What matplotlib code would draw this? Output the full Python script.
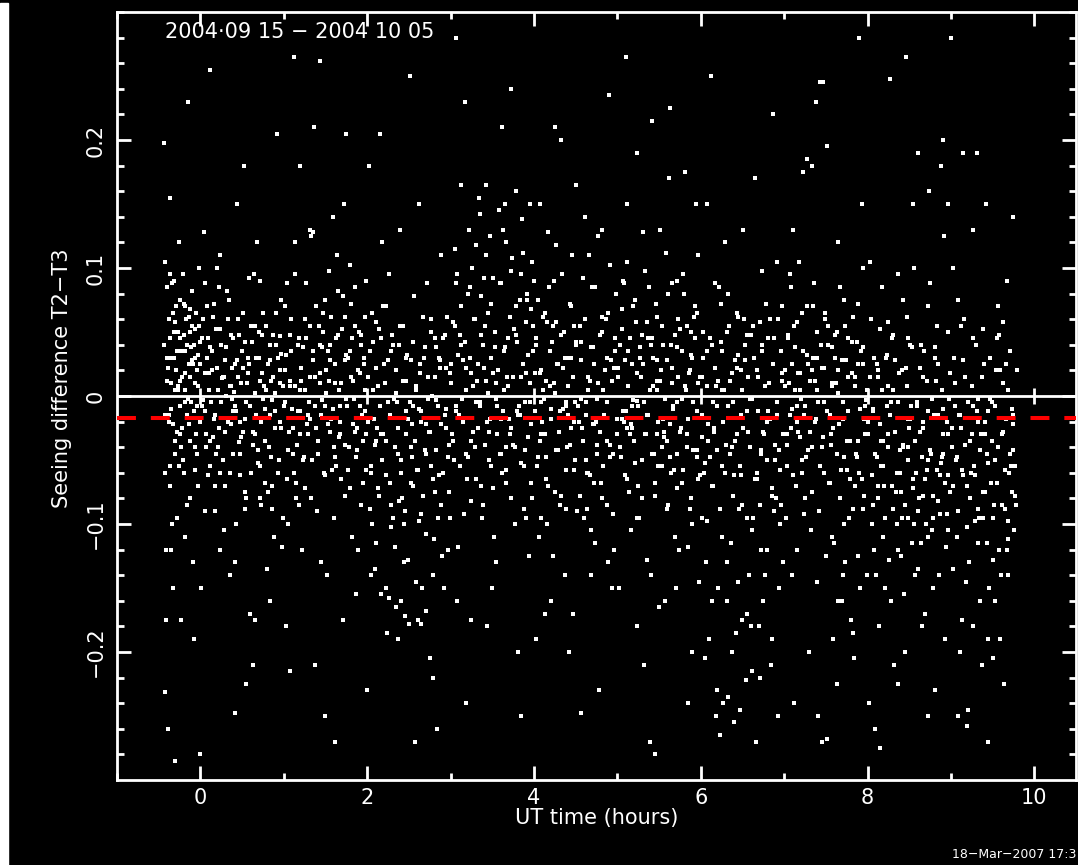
import numpy as np
import matplotlib
matplotlib.use('Agg')
import matplotlib.pyplot as plt
from matplotlib.patches import Rectangle

# seeing difference T2-T3 vs UT, 2004-09-15 .. 2004-10-05
# each list: pairs of (UT in 0.01 h, difference in 0.001)
h_m = [-44,198, -43,-231, -42,105, -41,-120, -40,12, -39,-260, -38,60, -37,-70, -36,155, -35,-10,
       -34,88, -33,-150, -32,30, -31,-45, -30,-285, -29,70, -28,-95, -27,5, -26,120, -25,-30,
       -24,45, -23,-175, -22,15, -21,95, -20,-60, -19,35, -18,-110, -17,60, -16,-15, -15,230,
       -14,25, -13,-80, -12,50, -11,-5, -10,82, -9,-130, -8,40, -7,10, -6,-40, -5,65,
       -4,20, -3,-70, -2,55, -1,-20, -44,40, -42,-60, -40,85, -38,-15, -36,30, -34,-100,
       -32,50, -30,5, -28,35, -26,-55, -24,75, -22,-25, -20,48, -18,18, -16,-85, -14,62,
       -12,-35, -10,28, -8,-190, -6,52, -4,-8, -2,100, -43,-15, -39,22, -35,-120, -31,58,
       -27,8, -23,-40, -19,70, -15,-2, -11,38, -7,-58, -3,32, -41,-175, -37,95, -33,-22]
h0 = [2,45, 5,-12, 8,70, 11,-35, 14,20, 17,-90, 21,5, 24,110, 27,-50, 30,28,
      3,-3, 6,88, 9,-62, 12,38, 16,-18, 19,52, 23,-120, 26,14, 29,-28, 33,60,
      35,-140, 38,22, 41,-8, 44,150, 47,-45, 50,35, 53,-75, 56,10, 59,-170, 62,42,
      34,75, 37,-22, 40,3, 43,-100, 46,48, 49,-32, 52,180, 55,-5, 58,25, 61,-60,
      64,95, 67,-15, 70,30, 73,-85, 76,8, 79,55, 82,-40, 85,12, 88,-110, 91,65,
      65,-30, 68,120, 71,-55, 74,18, 77,-10, 80,-135, 83,40, 86,-70, 89,2, 93,30,
      95,-20, 97,75, 99,-95, 1,-150, 4,128, 7,-40, 10,18, 13,-5, 15,62, 18,-70,
      20,100, 22,-25, 25,40, 28,-105, 31,0, 32,82, 36,-60, 39,45, 42,-130, 45,15,
      48,-20, 51,65, 54,-88, 57,30, 60,-8, 63,-210, 66,55, 69,-42, 72,90, 75,-2,
      78,-68, 81,25, 84,-160, 87,48, 90,-25, 92,205, 94,-50, 96,10, 98,-118, 0,-280,
      11,255, 23,-60, 37,8, 46,-36, 58,92, 71,-80, 83,-15, 95,47, 42,-248, 66,-175,
      8,30, 19,-45, 28,15, 39,-12, 51,22, 63,-28, 74,48, 86,-3, 97,33, 55,-225]
h1 = [101,20, 104,-65, 107,48, 110,-10, 113,95, 116,-38, 119,5, 122,-120, 125,60, 128,-22,
      131,130, 134,-50, 137,15, 140,-90, 143,40, 146,-3, 149,75, 152,-140, 155,28, 158,-58,
      161,10, 164,110, 167,-30, 170,52, 173,-78, 176,-8, 179,35, 182,-110, 185,85, 188,-42,
      191,18, 194,-15, 197,62, 103,-180, 106,-28, 109,35, 112,265, 115,-80, 118,45, 121,12,
      124,-48, 127,88, 130,-5, 133,125, 136,210, 139,-25, 142,55, 145,-130, 148,-60, 151,20,
      154,98, 157,-18, 160,-95, 163,45, 166,5, 169,-65, 172,150, 175,32, 178,-40, 181,72,
      184,-2, 187,-155, 190,50, 193,-85, 196,25, 199,-30, 102,70, 105,-100, 108,8, 111,-45,
      114,120, 117,-12, 120,180, 123,38, 126,-72, 129,-15, 132,55, 135,128, 138,-210, 141,-35,
      144,10, 147,65, 150,-250, 153,-22, 156,40, 159,140, 162,-48, 165,82, 168,-8, 171,-175,
      174,28, 177,-58, 180,102, 183,12, 186,-28, 189,-120, 192,48, 195,-68, 198,90, 100,-8,
      119,-30, 135,35, 150,-8, 166,-32, 182,45, 197,-12, 108,-215, 143,262, 161,-270, 175,205]
h2 = [201,15, 204,-60, 207,42, 210,-115, 213,8, 216,-30, 219,70, 222,-150, 225,-5, 228,35,
      231,-95, 234,20, 237,-45, 240,-160, 243,55, 246,-12, 249,-128, 252,28, 255,-70, 258,5,
      261,-175, 264,-20, 267,62, 270,-108, 273,15, 276,-55, 279,-140, 282,38, 285,-8, 288,-85,
      291,45, 294,-25, 297,-120, 202,180, 205,-140, 208,-18, 211,58, 214,-78, 217,-155, 220,25,
      223,-35, 226,95, 229,-102, 232,-2, 235,-165, 238,40, 241,-60, 244,-130, 247,12, 250,-178,
      253,-40, 256,78, 259,-145, 262,-10, 265,-92, 268,30, 271,-168, 274,-28, 277,50, 280,-112,
      283,-3, 286,-62, 289,110, 292,-150, 295,22, 298,-38, 203,-88, 206,65, 209,-135, 212,-25,
      215,205, 218,-50, 221,10, 224,-185, 227,-68, 230,48, 233,-118, 236,-5, 239,130, 242,-80,
      245,-172, 248,32, 251,250, 254,-22, 257,-270, 260,-58, 263,18, 266,-150, 269,-42, 272,88,
      275,-205, 278,0, 281,-75, 284,-260, 287,28, 290,-125, 293,-15, 296,62, 299,-95, 200,-230,
      218,120, 237,-190, 255,-8, 262,150, 279,-220, 244,-100, 226,-158, 265,-178, 281,45, 210,-35]
h3 = [301,25, 304,-50, 307,88, 310,-15, 313,40, 316,-92, 319,5, 322,130, 325,-35, 328,60,
      331,-5, 334,155, 337,-70, 340,22, 343,110, 346,-28, 349,72, 352,-110, 355,10, 358,145,
      361,-45, 364,35, 367,120, 370,-18, 373,-80, 376,52, 379,160, 382,-8, 385,95, 388,-55,
      391,18, 394,-125, 397,68, 302,-30, 305,115, 308,-160, 311,48, 314,-2, 317,230, 320,-65,
      323,30, 326,100, 329,-40, 332,12, 335,142, 338,-95, 341,55, 344,-20, 347,125, 350,-150,
      353,38, 356,-8, 359,88, 362,-60, 365,150, 368,15, 371,-30, 374,108, 377,-100, 380,42,
      383,-15, 386,138, 389,-42, 392,75, 395,-5, 398,-80, 303,58, 306,-12, 309,-118, 312,165,
      315,28, 318,-45, 321,80, 324,-175, 327,8, 330,118, 333,-25, 336,48, 339,-85, 342,165,
      345,2, 348,-55, 351,92, 354,-130, 357,20, 360,-18, 363,130, 366,-68, 369,45, 372,240,
      375,-38, 378,70, 381,-200, 384,15, 387,112, 390,-95, 393,32, 396,-22, 399,55, 306,280,
      318,-240, 344,-180, 362,210, 385,-250, 398,105, 335,-8, 351,18, 367,-40, 380,-12, 395,150]
h4 = [401,18, 404,-55, 407,150, 410,-20, 413,65, 416,-100, 419,8, 422,42, 425,-75, 428,25,
      431,-12, 434,95, 437,-140, 440,30, 443,-38, 446,110, 449,-5, 452,-90, 455,55, 458,-25,
      461,140, 464,-60, 467,12, 470,85, 473,-115, 476,-2, 479,48, 482,-80, 485,20, 488,-35,
      491,102, 494,-150, 497,35, 402,-190, 405,75, 408,-30, 411,5, 414,-65, 417,128, 420,-10,
      423,-125, 426,58, 429,-42, 432,200, 435,22, 438,-88, 441,-15, 444,70, 447,-170, 450,40,
      453,-8, 456,-248, 459,92, 462,-50, 465,15, 468,-105, 471,38, 474,-20, 477,125, 480,-68,
      483,5, 486,60, 489,-130, 492,28, 495,-45, 498,80, 403,45, 406,-110, 409,20, 412,-2,
      415,-48, 418,85, 421,-160, 424,10, 427,118, 430,-28, 433,-78, 436,50, 439,-8, 442,-200,
      445,30, 448,-58, 451,165, 454,-20, 457,42, 460,-95, 463,-5, 466,110, 469,-140, 472,25,
      475,-38, 478,-230, 481,62, 484,-15, 487,-85, 490,235, 493,12, 496,-120, 499,-30, 400,90,
      413,-170, 425,210, 448,55, 465,-60, 482,130, 438,-5, 456,28, 472,-22, 491,-48, 407,-35]
h5 = [501,22, 504,-48, 507,90, 510,-12, 513,35, 516,-105, 519,-3, 522,58, 525,-70, 528,15,
      531,128, 534,-30, 537,45, 540,-140, 543,8, 546,72, 549,-55, 552,20, 555,-18, 558,112,
      561,-85, 564,40, 567,-8, 570,-150, 573,60, 576,-25, 579,95, 582,5, 585,-118, 588,32,
      591,-42, 594,150, 597,-65, 502,-150, 505,68, 508,-20, 511,150, 514,-75, 517,25, 520,-35,
      523,190, 526,-95, 529,48, 532,-5, 535,-128, 538,85, 541,215, 544,-45, 547,12, 550,-165,
      553,55, 556,-28, 559,-88, 562,170, 565,10, 568,-58, 571,38, 574,-120, 577,-2, 580,80,
      583,-40, 586,18, 589,-100, 592,62, 595,-12, 598,-145, 503,40, 506,-18, 509,-62, 512,105,
      515,-30, 518,-8, 521,75, 524,-180, 527,30, 530,-50, 533,98, 536,-15, 539,-270, 542,45,
      545,-78, 548,5, 551,130, 554,-40, 557,-160, 560,28, 563,-22, 566,88, 569,-110, 572,-5,
      575,52, 578,-68, 581,175, 584,-30, 587,20, 590,-200, 593,70, 596,-48, 599,15, 545,-280,
      510,265, 532,-210, 563,225, 585,-240, 597,110, 524,-4, 548,-30, 571,-45, 588,50, 512,-25]
h6 = [601,15, 604,-60, 607,150, 610,-190, 613,40, 616,-25, 619,-230, 622,85, 625,-110, 628,5,
      631,-160, 634,55, 637,-40, 640,-255, 643,22, 646,-88, 649,-175, 652,60, 655,-12, 658,-140,
      661,-215, 664,30, 667,-65, 670,-180, 673,98, 676,-30, 679,-120, 682,10, 685,-78, 688,45,
      691,-15, 694,-150, 697,70, 602,-95, 605,-205, 608,35, 611,-48, 614,-160, 617,88, 620,-8,
      623,-265, 626,-55, 629,120, 632,-130, 635,12, 638,-200, 641,-35, 644,65, 647,-245, 650,-85,
      653,28, 656,-170, 659,-2, 662,-105, 665,170, 668,-60, 671,-220, 674,40, 677,-140, 680,-20,
      683,60, 686,-190, 689,-50, 692,105, 695,-100, 698,18, 603,50, 606,-130, 609,-22, 612,250,
      615,-70, 618,8, 621,-150, 624,42, 627,-240, 630,-38, 633,80, 636,-115, 639,-5, 642,-185,
      645,32, 648,-62, 651,130, 654,-222, 657,-28, 660,48, 663,-95, 666,-270, 669,15, 672,-45,
      675,-160, 678,72, 681,-12, 684,-210, 687,25, 690,-80, 693,-250, 696,35, 699,-130, 660,-180,
      633,-235, 618,-250, 687,220, 645,-145, 672,-120, 601,-32, 626,5, 648,20, 671,58, 694,-42]
h7 = [701,20, 704,-55, 707,95, 710,-10, 713,38, 716,-120, 719,5, 722,65, 725,-80, 728,185,
      731,-28, 734,180, 737,12, 740,-145, 743,245, 746,-40, 749,60, 752,-268, 755,-15, 758,-110,
      761,30, 764,-160, 767,85, 770,-5, 773,-130, 776,45, 779,-65, 782,-185, 785,15, 788,-35,
      791,-150, 794,100, 797,-8, 702,-95, 705,48, 708,-25, 711,130, 714,-70, 717,18, 720,-2,
      723,175, 726,-48, 729,25, 732,-105, 735,70, 738,-18, 741,-250, 744,40, 747,245, 750,-125,
      753,55, 756,-30, 759,-190, 762,10, 765,120, 768,-58, 771,-140, 774,28, 777,-12, 780,-175,
      783,62, 786,-45, 789,-125, 792,35, 795,-88, 798,-3, 703,-30, 706,10, 709,-140, 712,55,
      715,-8, 718,105, 721,-60, 724,-15, 727,32, 730,-200, 733,-40, 736,88, 739,5, 742,-90,
      745,-270, 748,22, 751,195, 754,-68, 757,8, 760,-115, 763,50, 766,-22, 769,-160, 772,75,
      775,-35, 778,-95, 781,18, 784,-205, 787,42, 790,-60, 793,150, 796,-18, 799,-140, 790,280,
      712,-240, 738,230, 748,-5, 763,-225, 785,-70, 719,-32, 733,20, 758,38, 772,-48, 795,25]
h8 = [801,-20, 804,60, 807,-85, 810,-140, 813,15, 816,-55, 819,-110, 822,30, 825,-30, 828,-160,
      831,5, 834,-75, 837,95, 840,-125, 843,-40, 846,22, 849,-95, 852,-8, 855,150, 858,-60,
      861,-135, 864,40, 867,-20, 870,-100, 873,70, 876,-45, 879,-150, 882,12, 885,-82, 888,180,
      891,-30, 894,-118, 897,50, 802,-240, 805,-100, 808,30, 811,-48, 814,-180, 817,85, 820,-70,
      823,-8, 826,-128, 829,45, 832,-210, 835,-60, 838,18, 841,-95, 844,-155, 847,62, 850,-25,
      853,-115, 856,100, 859,-5, 862,-80, 865,-180, 868,35, 871,-58, 874,160, 877,-105, 880,-15,
      883,55, 886,-140, 889,-48, 892,125, 895,-92, 898,-2, 803,105, 806,-12, 809,-260, 812,-70,
      815,52, 818,-35, 821,-150, 824,8, 827,248, 830,-88, 833,28, 836,-120, 839,-42, 842,75,
      845,-200, 848,-18, 851,40, 854,-65, 857,-140, 860,190, 863,-28, 866,15, 869,-170, 872,-50,
      875,88, 878,-95, 881,-230, 884,25, 887,-62, 890,-10, 893,-190, 896,150, 899,-75, 815,-275,
      837,-225, 846,265, 872,-250, 890,200, 812,20, 828,-5, 849,-40, 866,-78, 881,38, 897,-30]
h9 = [901,-40, 904,30, 907,-110, 910,-15, 913,-175, 916,60, 919,-70, 922,-130, 925,8, 928,-55,
      931,190, 934,-95, 937,-210, 940,25, 943,-45, 946,-150, 949,-5, 952,-85, 955,45, 958,-120,
      961,-30, 964,-225, 967,90, 970,-60, 973,-10, 976,-105, 979,20, 902,-135, 905,-8, 908,75,
      911,-200, 914,-62, 917,15, 920,-245, 923,-35, 926,130, 929,-98, 932,-20, 935,-160, 938,52,
      941,-75, 944,-270, 947,-2, 950,-128, 953,-50, 956,70, 959,-190, 962,10, 965,-88, 968,-140,
      971,35, 974,-42, 977,-78, 903,100, 906,-50, 909,-250, 912,-25, 915,190, 918,-145, 921,-5,
      924,-60, 927,-180, 930,40, 933,-115, 936,-30, 939,-95, 942,150, 945,-12, 948,-68, 951,-205,
      954,20, 957,-40, 960,-140, 963,58, 966,-18, 969,-112, 972,-55, 975,140, 978,-85, 900,280,
      912,55, 927,-8, 941,-30, 953,-160, 966,25, 975,-22, 933,-2, 958,48, 919,-258, 945,-190]

# dense core of the band, same units
c_m = [-40,30, -38,-20, -37,45, -35,10, -33,65, -31,-35, -29,20, -27,50, -25,-8, -23,35,
       -21,-50, -20,72, -18,5, -16,40, -14,-22, -12,15, -10,55, -8,-12, -6,30, -4,-45,
       -3,8, -1,42, -36,-55, -32,90, -28,-28, -24,12, -19,-5, -13,68, -9,25, -5,-30]
c0 = [0,25, 2,-8, 3,60, 5,18, 7,-30, 9,45, 10,5, 12,-55, 14,35, 16,72, 18,-15, 20,22, 21,-40, 23,52, 25,-5,
      27,15, 29,-70, 31,38, 33,-20, 35,8, 37,48, 39,-45, 41,25, 43,-12, 45,60, 47,-62, 49,10, 51,-28, 53,42,
      55,-80, 57,18, 59,-8, 61,55, 63,-38, 65,2, 67,30, 69,-52, 71,12, 73,-20, 75,65, 77,-35, 79,5, 81,-75,
      83,28, 85,-48, 87,15, 89,-12, 91,40, 93,-60, 95,20, 97,-25, 99,8, 6,-90, 22,85, 38,-2, 54,-18, 70,50,
      86,-88, 15,-32, 44,28]
c1 = [101,-5, 103,32, 105,-42, 107,12, 109,60, 111,-25, 113,8, 115,-68, 117,40, 119,-12, 121,22, 123,-50,
      125,5, 127,45, 129,-30, 131,15, 133,-80, 135,28, 137,-8, 139,70, 141,-45, 143,18, 145,-15, 147,50,
      149,-62, 151,2, 153,35, 155,-28, 157,62, 159,-10, 161,25, 163,-55, 165,48, 167,-20, 169,10, 171,78,
      173,-38, 175,-2, 177,30, 179,-72, 181,15, 183,-22, 185,55, 187,-48, 189,20, 191,-8, 193,40, 195,-35,
      197,5, 199,-58, 104,88, 118,-85, 132,-18, 146,38, 160,-40, 174,62, 188,-25, 196,30, 112,-60, 154,12]
c2 = [201,-20, 203,35, 205,-55, 207,5, 209,-38, 211,22, 213,-72, 215,-8, 217,45, 219,-30, 221,10, 223,-62,
      225,28, 227,-15, 229,-85, 231,40, 233,-40, 235,2, 237,-25, 239,55, 241,-50, 243,12, 245,-90, 247,30,
      249,-18, 251,-5, 253,-68, 255,42, 257,-35, 259,8, 261,-58, 263,25, 265,-12, 267,-78, 269,38, 271,-45,
      273,-2, 275,-28, 277,60, 279,-65, 281,15, 283,-42, 285,-95, 287,22, 289,-22, 291,-60, 293,48, 295,-10,
      297,-48, 299,18, 206,-100, 222,70, 238,-82, 254,-48, 270,-22, 286,30, 298,-75, 214,52, 246,-30, 262,-98]
c3 = [301,10, 303,-35, 305,55, 307,-8, 309,32, 311,-55, 313,70, 315,-20, 317,42, 319,5, 321,-48, 323,85,
      325,18, 327,-28, 329,60, 331,-65, 333,25, 335,-5, 337,78, 339,40, 341,-38, 343,12, 345,65, 347,-18,
      349,30, 351,-72, 353,50, 355,-2, 357,20, 359,-45, 361,88, 363,-12, 365,38, 367,-58, 369,8, 371,62,
      373,-25, 375,15, 377,-40, 379,48, 381,-15, 383,75, 385,-52, 387,25, 389,-5, 391,58, 393,-32, 395,10,
      397,-68, 399,35, 308,95, 324,-82, 340,92, 356,-30, 372,98, 388,-88, 318,22, 346,-50, 364,5, 392,80]
c4 = [401,-12, 403,40, 405,-48, 407,18, 409,-5, 411,62, 413,-30, 415,12, 417,-70, 419,35, 421,-18, 423,55,
      425,2, 427,-42, 429,25, 431,-85, 433,48, 435,-10, 437,30, 439,-58, 441,8, 443,72, 445,-25, 447,15,
      449,-50, 451,42, 453,-8, 455,-78, 457,28, 459,-35, 461,60, 463,-15, 465,5, 467,-62, 469,38, 471,-22,
      473,85, 475,-45, 477,10, 479,-28, 481,50, 483,-55, 485,20, 487,-5, 489,65, 491,-38, 493,12, 495,-92,
      497,45, 499,-18, 408,-95, 424,90, 440,-40, 456,-2, 472,-68, 488,30, 416,58, 448,-20, 464,-88, 496,22]
c5 = [501,15, 503,-40, 505,52, 507,-12, 509,28, 511,-65, 513,8, 515,45, 517,-25, 519,70, 521,-52, 523,18,
      525,-8, 527,38, 529,-80, 531,25, 533,-30, 535,58, 537,-15, 539,5, 541,-45, 543,30, 545,-68, 547,62,
      549,-20, 551,12, 553,-55, 555,40, 557,-2, 559,-35, 561,80, 563,-48, 565,22, 567,-10, 569,48, 571,-72,
      573,15, 575,-28, 577,35, 579,-58, 581,8, 583,55, 585,-18, 587,-88, 589,30, 591,-5, 593,45, 595,-42,
      597,10, 599,-62, 508,88, 524,-95, 540,40, 556,-32, 572,90, 588,-80, 516,-22, 548,28, 564,-60, 596,65]
c6 = [601,-15, 603,30, 605,-52, 607,8, 609,-35, 611,45, 613,-70, 615,-5, 617,22, 619,-42, 621,12, 623,-88,
      625,35, 627,-20, 629,-60, 631,50, 633,-8, 635,-45, 637,18, 639,-78, 641,28, 643,-30, 645,62, 647,-55,
      649,5, 651,-25, 653,40, 655,-95, 657,15, 659,-40, 661,-2, 663,55, 665,-65, 667,20, 669,-12, 671,-85,
      673,35, 675,-28, 677,8, 679,-50, 681,45, 683,-18, 685,-72, 687,25, 689,-38, 691,-5, 693,60, 695,-58,
      697,12, 699,-30, 608,-98, 624,72, 640,-62, 656,48, 672,-42, 688,-90, 616,-28, 648,-15, 664,30, 696,-85]
c7 = [701,8, 703,-38, 705,45, 707,-15, 709,25, 711,-62, 713,5, 715,58, 717,-28, 719,18, 721,-50, 723,35,
      725,-8, 727,70, 729,-42, 731,12, 733,-75, 735,30, 737,-20, 739,50, 741,-5, 743,-55, 745,22, 747,-32,
      749,65, 751,-12, 753,40, 755,-68, 757,10, 759,-25, 761,48, 763,-45, 765,2, 767,-80, 769,28, 771,-18,
      773,55, 775,-58, 777,15, 779,-35, 781,42, 783,-88, 785,8, 787,-48, 789,25, 791,-10, 793,-65, 795,38,
      797,-30, 799,5, 708,85, 724,-92, 740,30, 756,-38, 772,-100, 788,72, 716,-20, 748,-60, 764,20, 796,-78]
c8 = [801,-30, 803,15, 805,-62, 807,-10, 809,-45, 811,25, 813,-80, 815,-22, 817,5, 819,-55, 821,-95, 823,32,
      825,-40, 827,-15, 829,-70, 831,48, 833,-28, 835,-100, 837,-5, 839,-60, 841,20, 843,-38, 845,-85, 847,8,
      849,-50, 851,-18, 853,38, 855,-72, 857,-35, 859,-8, 861,-90, 863,22, 865,-48, 867,-25, 869,-65, 871,12,
      873,-110, 875,-42, 877,-2, 879,-78, 881,30, 883,-58, 885,-15, 887,-92, 889,5, 891,-45, 893,-68, 895,-20,
      897,-105, 899,18, 808,-120, 824,58, 840,-75, 856,-100, 872,-12, 888,-52, 816,-35, 848,45, 864,-115, 896,-62]
c9 = [901,-25, 903,-70, 905,10, 907,-48, 909,-90, 911,-15, 913,-58, 915,28, 917,-38, 919,-102, 921,-5,
      923,-80, 925,-30, 927,45, 929,-62, 931,-12, 933,-88, 935,-42, 937,15, 939,-75, 941,-20, 943,-115,
      945,-52, 947,30, 949,-35, 951,-95, 953,-8, 955,-68, 957,-40, 959,20, 961,-85, 963,-28, 965,-58,
      967,-120, 969,5, 971,-45, 973,-75, 975,-15, 977,-55, 968,-98]

mean_diff = -0.017
date_range = '2004·09 15 \u2212 2004 10 05'
stamp = '18\u2212Mar\u22122007 17:3'

spread = h_m + h0 + h1 + h2 + h3 + h4 + h5 + h6 + h7 + h8 + h9
core = c_m + c0 + c1 + c2 + c3 + c4 + c5 + c6 + c7 + c8 + c9
pts = np.array(spread + core, dtype=float).reshape(-1, 2)
ut = pts[:, 0] / 100.0
dsee = pts[:, 1] / 1000.0

plt.rcParams['font.family'] = ['DejaVu Sans']
fig = plt.figure(figsize=(10.78, 8.65), dpi=100, facecolor='black')
ax = fig.add_axes([117/1078, 1 - 780/865, (1076 - 117)/1078, (780 - 12)/865])
ax.set_facecolor('black')

ax.plot(ut, dsee, 's', color='white', ms=2.4, mew=0, zorder=3)
ax.axhline(0, color='white', lw=2, zorder=2)
xmaj = np.arange(0, 11, 2)
ax.vlines(xmaj, -0.006, 0.006, color='white', lw=2, zorder=2)
ax.axhline(mean_diff, color='red', lw=2.9, dashes=(4.7, 3.7), zorder=4)

ax.set_xlim(-1, 10.5)
ax.set_ylim(-0.3, 0.3)
ax.set_xticks(xmaj)
ax.set_xticks(np.arange(-1, 11, 1), minor=True)
ax.set_yticks([-0.2, -0.1, 0, 0.1, 0.2])
ax.set_yticklabels(['\u22120.2', '\u22120.1', '0', '0.1', '0.2'])
ax.set_yticks(np.arange(-0.28, 0.3, 0.02), minor=True)
for s in ax.spines.values():
    s.set_color('white')
    s.set_linewidth(2)
ax.tick_params(which='both', direction='in', top=True, right=True, color='white',
               labelcolor='white', width=2, labelsize=15)
ax.tick_params(which='major', length=10)
ax.tick_params(which='minor', length=5)
ax.tick_params(axis='x', pad=6)
ax.tick_params(axis='y', labelrotation=90, pad=8)
for lab in ax.get_yticklabels():
    lab.set_va('center')

ax.set_xlabel('UT time (hours)', color='white', fontsize=15, labelpad=0)
fig.text(62/1078, 1 - 378/865, 'Seeing difference T2\u2212T3', color='white', fontsize=15,
         rotation=90, ha='center', va='center')
ax.text(0.05, 0.974, date_range, transform=ax.transAxes, color='white', fontsize=15,
        ha='left', va='center')
fig.text(1076/1078, 1 - 855/865, stamp, color='white', fontsize=9, ha='right', va='center')
fig.patches.append(Rectangle((0, 0), 8/1078, 1 - 3/865, transform=fig.transFigure,
                             color='white', zorder=0))

fig.savefig('out.png', dpi=100, facecolor='black')
